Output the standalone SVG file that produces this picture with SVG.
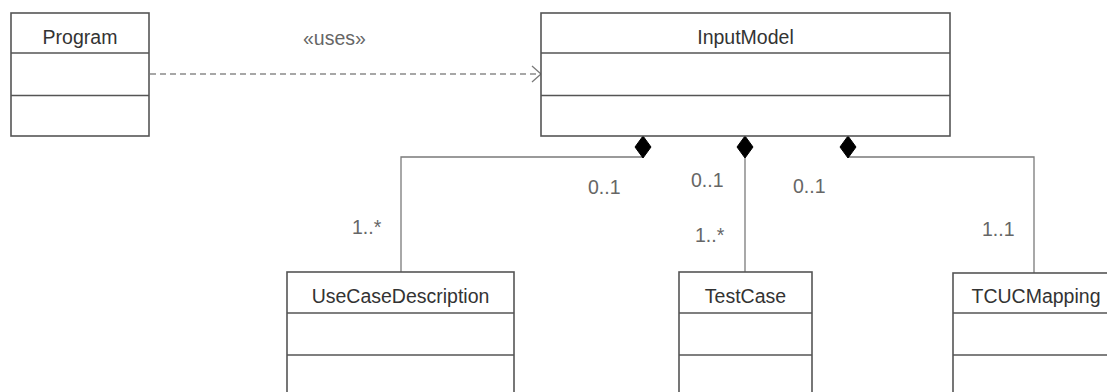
<svg xmlns="http://www.w3.org/2000/svg" width="1107" height="392" viewBox="0 0 1107 392">
<style>
.box{fill:#fff;stroke:#555;stroke-width:1.6}
.div{stroke:#555;stroke-width:1.6}
.name{font-family:"Liberation Sans",Arial,sans-serif;font-size:19.5px;fill:#333;text-anchor:middle}
.lbl{font-family:"Liberation Sans",Arial,sans-serif;font-size:19.5px;fill:#666}
.conn{fill:none;stroke:#7a7a7a;stroke-width:1.3}
.dash{fill:none;stroke:#8a8a8a;stroke-width:1.3;stroke-dasharray:6 4}
.dia{fill:#000;stroke:#000;stroke-width:1}
</style>
<rect width="1107" height="392" fill="#fff"/>
<g id="connectors">
<line class="dash" x1="150" y1="74" x2="540" y2="74"/>
<polyline class="conn" points="532,66 541,74 532,82" stroke="#8a8a8a"/>
<polyline class="conn" points="643,157 401,157 401,272"/>
<line class="conn" x1="745" y1="158" x2="745" y2="272"/>
<polyline class="conn" points="848,157 1034,157 1034,273"/>
<polygon class="dia" points="643,136 651,147 643,158 635,147"/>
<polygon class="dia" points="745,136 753,147 745,158 737,147"/>
<polygon class="dia" points="848,136 856,147 848,158 840,147"/>
<text class="lbl" x="303" y="45">«uses»</text>
<text class="lbl" x="588" y="194">0..1</text>
<text class="lbl" x="352" y="234">1..*</text>
<text class="lbl" x="691" y="186.5">0..1</text>
<text class="lbl" x="695" y="241.5">1..*</text>
<text class="lbl" x="793" y="192.5">0..1</text>
<text class="lbl" x="982" y="236">1..1</text>
</g>
<g id="Program">
<rect class="box" x="11" y="13" width="138" height="123"/>
<line class="div" x1="11" y1="53" x2="149" y2="53"/>
<line class="div" x1="11" y1="95.5" x2="149" y2="95.5"/>
<text class="name" x="80" y="44">Program</text>
</g>
<g id="InputModel">
<rect class="box" x="541" y="13" width="409" height="123"/>
<line class="div" x1="541" y1="53" x2="950" y2="53"/>
<line class="div" x1="541" y1="95.5" x2="950" y2="95.5"/>
<text class="name" x="745.5" y="43.5">InputModel</text>
</g>
<g id="UseCaseDescription">
<rect class="box" x="287" y="272" width="227" height="126"/>
<line class="div" x1="287" y1="313" x2="514" y2="313"/>
<line class="div" x1="287" y1="355" x2="514" y2="355"/>
<text class="name" x="400.5" y="302.5">UseCaseDescription</text>
</g>
<g id="TestCase">
<rect class="box" x="679" y="272" width="133" height="126"/>
<line class="div" x1="679" y1="313" x2="812" y2="313"/>
<line class="div" x1="679" y1="355" x2="812" y2="355"/>
<text class="name" x="745.5" y="302.5">TestCase</text>
</g>
<g id="TCUCMapping">
<rect class="box" x="953" y="273" width="162" height="126"/>
<line class="div" x1="953" y1="313" x2="1115" y2="313"/>
<line class="div" x1="953" y1="355" x2="1115" y2="355"/>
<text class="name" x="1036" y="302.5">TCUCMapping</text>
</g>
</svg>
